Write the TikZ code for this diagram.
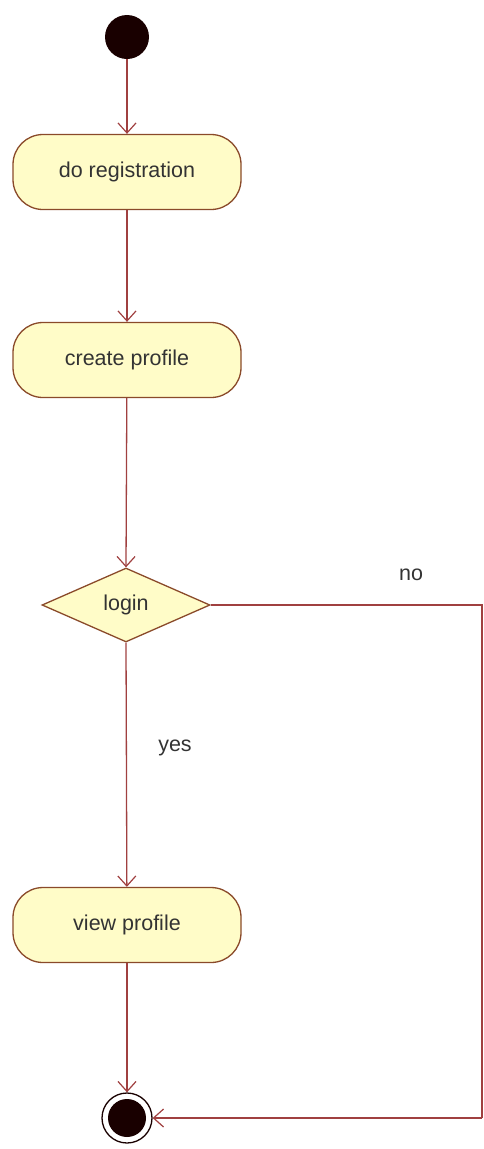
\documentclass[tikz,border=0pt]{standalone}
\usepackage{fontspec}
\setmainfont{Liberation Sans}
\usetikzlibrary{arrows.meta,shapes.geometric}
\definecolor{flowline}{HTML}{A04040}
\definecolor{boxedge}{HTML}{8A4A2A}
\definecolor{boxfill}{HTML}{FFFCC8}
\definecolor{labeltext}{HTML}{333333}
\begin{document}
\begin{tikzpicture}[x=1pt,y=-1pt,
  every node/.style={font=\fontsize{21.5}{25}\selectfont, text=labeltext},
  activity/.style={draw=boxedge, fill=boxfill, line width=1.3pt, rounded corners=30pt,
    minimum width=228pt, minimum height=75pt, inner sep=0pt},
  decision/.style={draw=boxedge, fill=boxfill, line width=1.3pt, diamond, aspect=2.27,
    minimum width=168pt, minimum height=74pt, inner sep=0pt},
  flow/.style={draw=flowline, line width=1.3pt, -{Straight Barb[length=10pt,width=18pt,line width=1.2pt]}},
  plain/.style={draw=flowline, line width=1.3pt}]
  \useasboundingbox (0,0) rectangle (483,1149);
  % start and end states
  \node[circle, fill=black!90!red, minimum size=44pt, inner sep=0pt] (start) at (127,37) {};
  \node[circle, draw=black!90!red, line width=1.3pt, fill=white, minimum size=50pt, inner sep=0pt] (stop) at (127,1118) {};
  \fill[black!90!red] (stop.center) circle (19pt);
  % activities
  \node[activity] (reg) at (127,172) {do registration};
  \node[activity] (prof) at (127,360) {create profile};
  \node[decision] (login) at (126,605) {login};
  \node[activity] (view) at (127,925) {view profile};
  \coordinate (nr) at (482,605);
  \coordinate (sr) at (482,1118);
  % flows
  \draw[flow] (start) -- (reg);
  \draw[flow] (reg) -- (prof);
  \draw[flow] (prof) -- (login.north);
  \draw[flow] (login.south) -- (view);
  \draw[flow] (view) -- (stop);
  \draw[plain] (login.east) -- (nr) -- (sr);
  \draw[flow] (sr) -- (stop);
  \node (yes) at (175,748) {yes};
  \node (no) at (411,575) {no};
\end{tikzpicture}
\end{document}
